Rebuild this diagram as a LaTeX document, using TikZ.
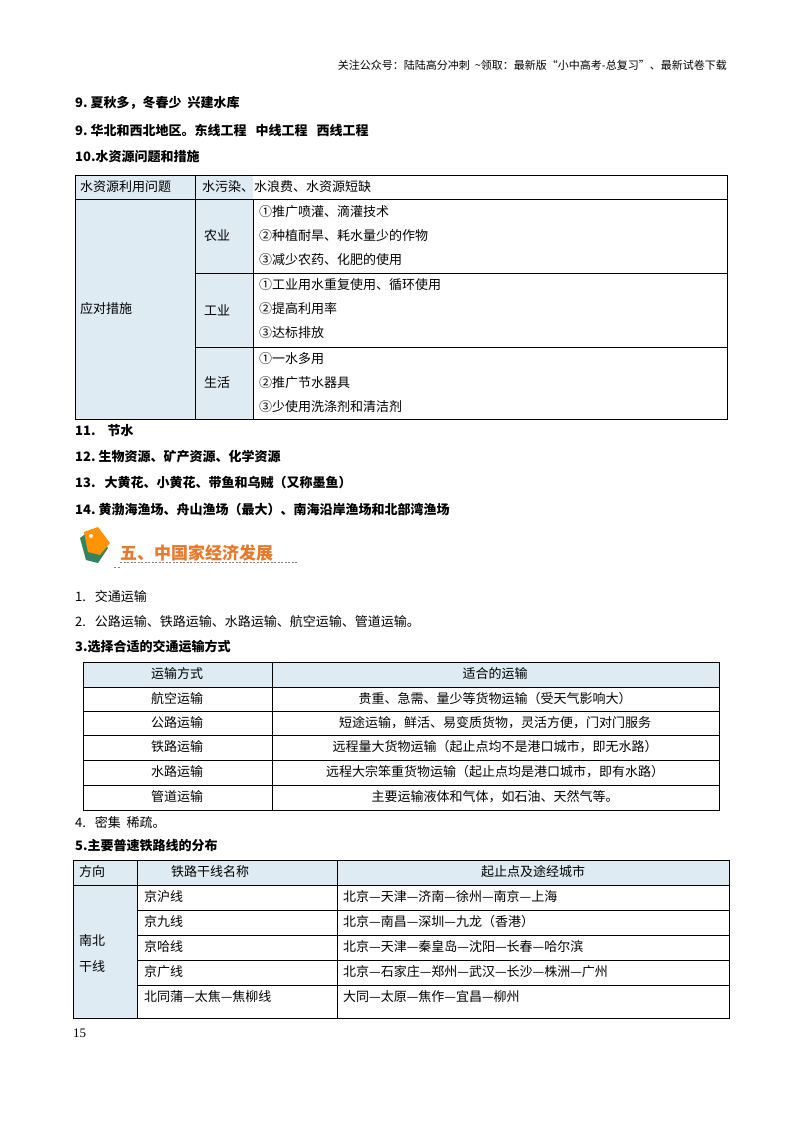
\documentclass[tikz,border=0pt]{standalone}
\usepackage{fontspec}
\setmainfont{Liberation Serif}
\newfontfamily\cjk{Noto Sans CJK SC}
\newfontfamily\cjkb{Noto Sans CJK SC}[BoldFont=*, FakeBold=1.5]
\definecolor{hdr}{HTML}{DEEBF2}
\definecolor{orng}{HTML}{E8792A}
\tikzset{x=1pt,y=-1pt,
 t/.style={anchor=west,inner sep=0pt,font=\cjk\fontsize{13}{13}\selectfont},
 tb/.style={t,font=\cjk\bfseries\fontsize{13}{13}\selectfont},
 c/.style={anchor=center,inner sep=0pt,font=\cjk\fontsize{13}{13}\selectfont},
 grid/.style={draw=black,line width=0.7pt}}
\begin{document}
\begin{tikzpicture}
\useasboundingbox (0,0) rectangle (800,1132);
\fill[white] (0,0) rectangle (800,1132);
\node[anchor=east,inner sep=0pt,font=\cjk\fontsize{11}{11}\selectfont] (hd) at (727,65) {关注公众号：陆陆高分冲刺\ \ \textasciitilde 领取：最新版“小中高考-总复习”、最新试卷下载};
\node[tb] (a9) at (75,103) {9.\ 夏秋多，冬春少\ \ 兴建水库};
\node[tb] (b9) at (75,130) {9.\ 华北和西北地区。东线工程\ \ \ 中线工程\ \ \ 西线工程};
\node[tb] (a10) at (75,157) {10.水资源问题和措施};
% table 1
\fill[hdr] (75,175) rectangle (253,419);
\draw[grid] (75,175) rectangle (727,419);
\draw[grid] (75,199) -- (727,199);
\draw[grid] (195,175) -- (195,419);
\draw[grid] (253,199) -- (253,419);
\draw[grid] (195,273) -- (727,273);
\draw[grid] (195,347) -- (727,347);
\node[t] (p1) at (80,187) {水资源利用问题};
\node[t] (p2) at (202,187) {水污染、水浪费、水资源短缺};
\node[t] (m) at (80,309) {应对措施};
\node[t] (n1) at (204,236) {农业};
\node[t] (n2) at (204,310) {工业};
\node[t] (n3) at (204,383) {生活};
\node[t] at (259,212) {①推广喷灌、滴灌技术};
\node[t] at (259,236) {②种植耐旱、耗水量少的作物};
\node[t] at (259,260) {③减少农药、化肥的使用};
\node[t] at (259,285) {①工业用水重复使用、循环使用};
\node[t] at (259,309) {②提高利用率};
\node[t] at (259,333) {③达标排放};
\node[t] at (259,359) {①一水多用};
\node[t] at (259,383) {②推广节水器具};
\node[t] at (259,407) {③少使用洗涤剂和清洁剂};
\node[tb] at (75,431) {11.\ \ \ \ 节水};
\node[tb] at (75,457) {12.\ 生物资源、矿产资源、化学资源};
\node[tb] at (75,483) {13.\ \ \ 大黄花、小黄花、带鱼和乌贼（又称墨鱼）};
\node[tb] at (75,509) {14.\ 黄渤海渔场、舟山渔场（最大）、南海沿岸渔场和北部湾渔场};
% section heading
\fill[teal!70!green!60!black!80] (80,538) -- (92,529) -- (108,548) -- (98,563) -- (86,560) -- cycle;
\fill[orange!85!yellow] (84,532) -- (98,527) -- (110,543) -- (100,555) -- (88,552) -- cycle;
\fill[white] (91,536) circle (2);
\node[anchor=west,inner sep=0pt,text=orng,font=\cjk\bfseries\fontsize{17}{17}\selectfont] (sec) at (120,553) {五、中国家经济发展};
\draw[gray,dash pattern=on 2pt off 1.5pt,line width=0.8pt] (120,562) -- (298,562);
\draw[gray,dash pattern=on 2pt off 1.5pt,line width=0.8pt] (114,567) -- (120,567);
\node[t] at (75,597) {1.\ \ \ 交通运输};
\node[t] at (75,622) {2.\ \ \ 公路运输、铁路运输、水路运输、航空运输、管道运输。};
\node[tb] at (75,647) {3.选择合适的交通运输方式};
% table 2
\fill[hdr] (83,662) rectangle (719,687);
\draw[grid] (83,662) rectangle (719,810);
\foreach \y in {687,711,735,760,785} \draw[grid] (83,\y) -- (719,\y);
\draw[grid] (272,662) -- (272,810);
\node[c] at (177,674) {运输方式};
\node[c] at (495,674) {适合的运输};
\node[c] at (177,699) {航空运输};
\node[c] at (495,699) {贵重、急需、量少等货物运输（受天气影响大）};
\node[c] at (177,723) {公路运输};
\node[c] at (495,723) {短途运输，鲜活、易变质货物，灵活方便，门对门服务};
\node[c] at (177,747) {铁路运输};
\node[c] at (495,747) {远程量大货物运输（起止点均不是港口城市，即无水路）};
\node[c] at (177,772) {水路运输};
\node[c] at (495,772) {远程大宗笨重货物运输（起止点均是港口城市，即有水路）};
\node[c] at (177,797) {管道运输};
\node[c] at (495,797) {主要运输液体和气体，如石油、天然气等。};
\node[t] at (75,822) {4.\ \ \ 密集\ \ 稀疏。};
\node[tb] at (75,846) {5.主要普速铁路线的分布};
% table 3
\fill[hdr] (73,860) rectangle (729,885);
\fill[hdr] (73,885) rectangle (137,1018);
\draw[grid] (73,860) rectangle (729,1018);
\draw[grid] (73,885) -- (729,885);
\foreach \y in {910,935,960,985} \draw[grid] (137,\y) -- (729,\y);
\draw[grid] (137,860) -- (137,1018);
\draw[grid] (337,860) -- (337,1018);
\node[t] at (79,872) {方向};
\node[c] at (210,872) {铁路干线名称};
\node[c] at (533,872) {起止点及途经城市};
\node[t] at (79,941) {南北};
\node[t] at (79,967) {干线};
\node[t] at (144,897) {京沪线};
\node[t] at (144,922) {京九线};
\node[t] at (144,947) {京哈线};
\node[t] at (144,972) {京广线};
\node[t] at (144,997) {北同蒲—太焦—焦柳线};
\node[t] at (343,897) {北京—天津—济南—徐州—南京—上海};
\node[t] at (343,922) {北京—南昌—深圳—九龙（香港）};
\node[t] at (343,947) {北京—天津—秦皇岛—沈阳—长春—哈尔滨};
\node[t] at (343,972) {北京—石家庄—郑州—武汉—长沙—株洲—广州};
\node[t] at (343,997) {大同—太原—焦作—宜昌—柳州};
\node[anchor=west,inner sep=0pt,font=\fontsize{13}{13}\selectfont] at (73,1033) {15};
\end{tikzpicture}
\end{document}
